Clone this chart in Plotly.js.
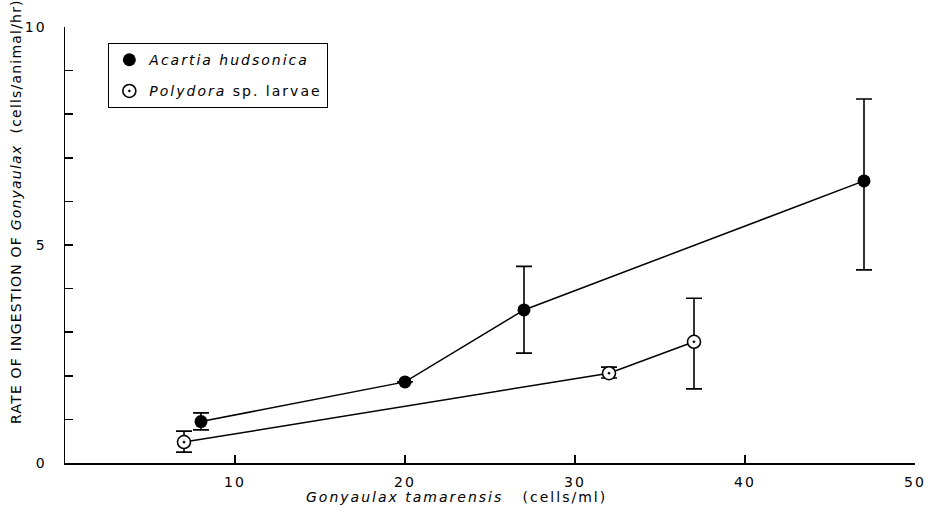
<!DOCTYPE html>
<html>
<head>
<meta charset="utf-8">
<script src="https://cdn.plot.ly/plotly-3.0.1.min.js"></script>
<style>
html,body{margin:0;padding:0;background:#fff;}
svg text{letter-spacing:2px;}
</style>
</head>
<body>
<div id="chart" style="width:936px;height:513px;"></div>
<script>
// Acartia hudsonica (filled circles)
const acartiaX = [8, 20, 27, 47];
const acartiaY = [0.95, 1.86, 3.51, 6.47];
const acartiaErrPlus = [0.20, 0, 1.0, 1.88];
const acartiaErrMinus = [0.19, 0, 0.99, 2.04];

// Polydora sp. larvae (open circles with dot)
const polydoraX = [7, 32, 37];
const polydoraY = [0.48, 2.06, 2.78];
const polydoraErrPlus = [0.25, 0.14, 1.0];
const polydoraErrMinus = [0.23, 0.11, 1.08];

const yTickVals = [0,1,2,3,4,5,6,7,8,9,10];
const yTickText = ['0','','','','','5','','','','','10'];
const xTickVals = [10, 20, 30, 40, 50];
const xTickText = ['10', '20', '30', '40', '50'];

const FONT = 'DejaVu Sans, Lato, sans-serif';

const errStyle = {color: '#000', thickness: 1.6, width: 8};

const traces = [
  {
    x: acartiaX, y: acartiaY, type: 'scatter', mode: 'lines', showlegend: false, hoverinfo: 'skip',
    line: {color: '#000', width: 1.5}
  },
  {
    x: polydoraX, y: polydoraY, type: 'scatter', mode: 'lines', showlegend: false, hoverinfo: 'skip',
    line: {color: '#000', width: 1.5}
  },
  {
    x: acartiaX, y: acartiaY, type: 'scatter', mode: 'markers',
    name: '<i>Acartia hudsonica</i>', legendgroup: 'a',
    marker: {symbol: 'circle', size: 13, color: '#000'},
    error_y: Object.assign({type: 'data', symmetric: false, array: acartiaErrPlus, arrayminus: acartiaErrMinus}, errStyle)
  },
  {
    x: polydoraX, y: polydoraY, type: 'scatter', mode: 'markers',
    name: '<i>Polydora</i> sp. larvae', legendgroup: 'p',
    marker: {symbol: 'circle-dot', size: 13, color: '#fff', line: {color: '#000', width: 1.6}},
    error_y: Object.assign({type: 'data', symmetric: false, array: polydoraErrPlus, arrayminus: polydoraErrMinus}, errStyle)
  }
];

const layout = {
  width: 936, height: 513,
  margin: {l: 65, r: 21, t: 27, b: 50},
  paper_bgcolor: '#fff', plot_bgcolor: '#fff',
  font: {family: FONT, color: '#000', size: 14},
  showlegend: true,
  legend: {
    x: 0.051, y: 0.963, xanchor: 'left', yanchor: 'top',
    bordercolor: '#000', borderwidth: 1, bgcolor: '#fff',
    font: {family: FONT, size: 14, color: '#000'},
    tracegroupgap: 10, itemwidth: 30
  },
  xaxis: {
    range: [0, 50], showgrid: false, zeroline: false,
    showline: true, linecolor: '#000', linewidth: 1.5,
    tickmode: 'array', tickvals: xTickVals, ticktext: xTickText,
    ticks: 'inside', ticklen: 8, tickwidth: 1.5, tickcolor: '#000',
    tickfont: {family: FONT, size: 14}, ticklabelstandoff: 6
  },
  yaxis: {
    range: [0, 10], showgrid: false, zeroline: false,
    showline: true, linecolor: '#000', linewidth: 1.5,
    tickmode: 'array', tickvals: yTickVals, ticktext: yTickText,
    ticks: 'inside', ticklen: 8, tickwidth: 1.5, tickcolor: '#000',
    tickfont: {family: FONT, size: 14}, ticklabelstandoff: 14
  },
  annotations: [
    {
      text: '<i>Gonyaulax tamarensis</i>   (cells/ml)', xref: 'paper', yref: 'paper',
      x: 0.46, y: -0.078, xanchor: 'center', yanchor: 'middle', showarrow: false,
      font: {family: FONT, size: 14, color: '#000'}
    },
    {
      text: '<span style="letter-spacing:1.2px">RATE OF INGESTION OF <i>Gonyaulax</i>  (cells/animal/hr)</span>',
      xref: 'paper', yref: 'paper', x: -0.0576, y: 0.576, textangle: -90,
      xanchor: 'center', yanchor: 'middle', showarrow: false,
      font: {family: FONT, size: 14, color: '#000'}
    }
  ]
};

Plotly.newPlot('chart', traces, layout, {staticPlot: true, displayModeBar: false});
</script>
</body>
</html>
